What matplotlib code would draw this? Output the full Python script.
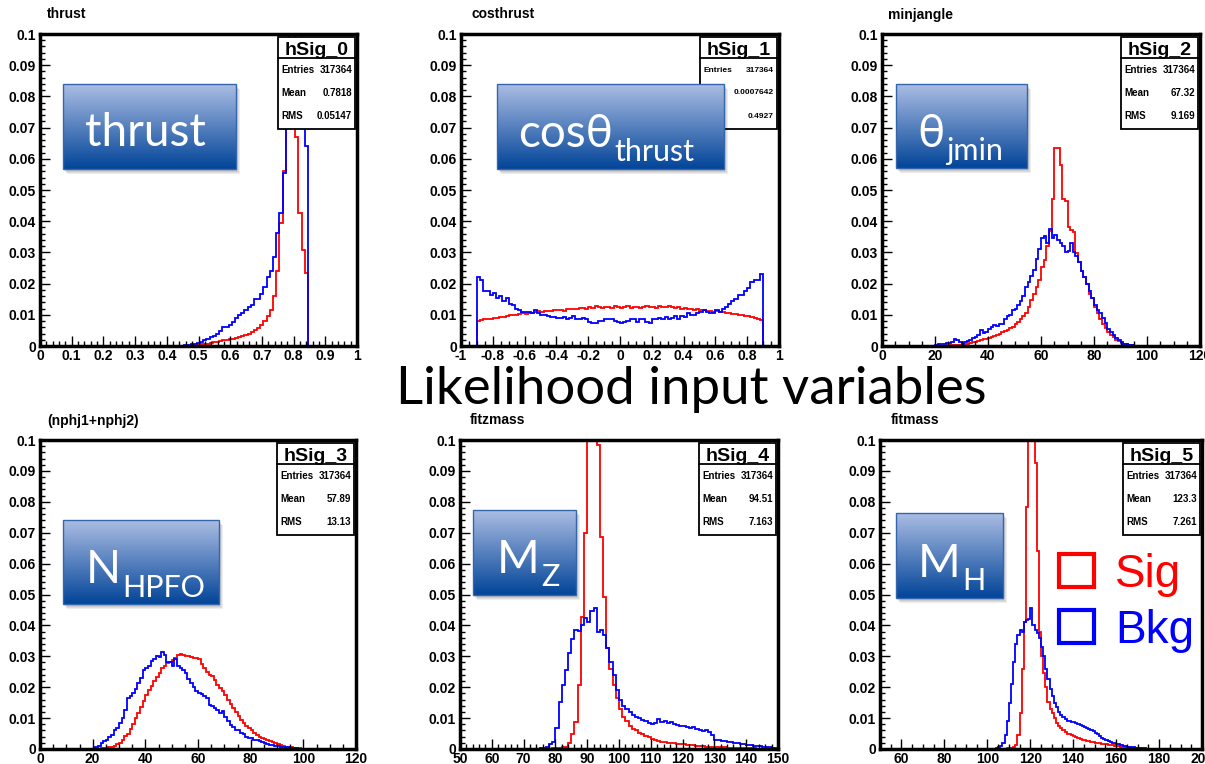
import numpy as np
import matplotlib
matplotlib.use('Agg')
import matplotlib.pyplot as plt
from matplotlib.patches import Rectangle
from matplotlib.ticker import MultipleLocator, FuncFormatter

W, H = 1205, 764

# ---------------- data (bin contents) ----------------
titles = ['thrust', 'costhrust', 'minjangle', '(nphj1+nphj2)', 'fitzmass', 'fitmass']
hist_names = ['hSig_0', 'hSig_1', 'hSig_2', 'hSig_3', 'hSig_4', 'hSig_5']
entries = ['317364'] * 6
means = ['0.7818', '0.0007642', '67.32', '57.89', '94.51', '123.3']
rmss = ['0.05147', '0.4927', '9.169', '13.13', '7.163', '7.261']
x_ranges = [(0, 1), (-1, 1), (0, 120), (0, 120), (50, 150), (50, 200)]
x_major = [0.1, 0.2, 20, 20, 10, 20]
x_minor = [0.02, 0.05, 5, 5, 2, 5]

# thrust, bins of 0.01 starting at 0.445
thrust_start, thrust_width = 0.445, 0.01
thrust_sig = [0.0000, 0.0000, 0.0001, 0.0002, 0.0003, 0.0004, 0.0005, 0.0006, 0.0008, 0.0010,
              0.0012, 0.0014, 0.0016, 0.0018, 0.0020, 0.0022, 0.0024, 0.0026, 0.0029, 0.0032,
              0.0035, 0.0040, 0.0045, 0.0050, 0.0058, 0.0068, 0.0080, 0.0095, 0.0115, 0.0160,
              0.0240, 0.0395, 0.0560, 0.0760, 0.1000, 0.1000, 0.0670, 0.0426, 0.0308, 0.0233, 0.0000]
thrust_bkg = [0.0001, 0.0003, 0.0004, 0.0005, 0.0008, 0.0010, 0.0013, 0.0018, 0.0022, 0.0030,
              0.0033, 0.0038, 0.0048, 0.0062, 0.0062, 0.0066, 0.0078, 0.0090, 0.0098, 0.0105,
              0.0115, 0.0125, 0.0132, 0.0150, 0.0150, 0.0168, 0.0188, 0.0222, 0.0240, 0.0285,
              0.0362, 0.0425, 0.0555, 0.0700, 0.1000, 0.1000, 0.1000, 0.1000, 0.0860, 0.0640, 0.0000]

# costhrust, bins of 0.02 starting at -0.9
cos_start, cos_width = -0.9, 0.02
cos_sig = [0.0081, 0.0083, 0.0085, 0.0086, 0.0088, 0.0089, 0.0091, 0.0093, 0.0094, 0.0096,
           0.0099, 0.0100, 0.0098, 0.0103, 0.0105, 0.0104, 0.0107, 0.0106, 0.0109, 0.0112,
           0.0110, 0.0112, 0.0113, 0.0111, 0.0115, 0.0114, 0.0116, 0.0113, 0.0118, 0.0117,
           0.0120, 0.0118, 0.0121, 0.0123, 0.0119, 0.0124, 0.0122, 0.0127, 0.0125, 0.0121,
           0.0124, 0.0126, 0.0123, 0.0127, 0.0124, 0.0122, 0.0125, 0.0127, 0.0123, 0.0124,
           0.0126, 0.0122, 0.0125, 0.0127, 0.0124, 0.0125, 0.0123, 0.0128, 0.0126, 0.0124,
           0.0127, 0.0125, 0.0122, 0.0124, 0.0120, 0.0121, 0.0118, 0.0120, 0.0116, 0.0118,
           0.0115, 0.0116, 0.0113, 0.0112, 0.0110, 0.0111, 0.0108, 0.0109, 0.0106, 0.0107,
           0.0104, 0.0102, 0.0100, 0.0099, 0.0097, 0.0095, 0.0093, 0.0091, 0.0088, 0.0082]
cos_bkg = [0.0220, 0.0212, 0.0177, 0.0177, 0.0165, 0.0170, 0.0155, 0.0160, 0.0145, 0.0155,
           0.0135, 0.0130, 0.0120, 0.0115, 0.0110, 0.0110, 0.0108, 0.0105, 0.0115, 0.0105,
           0.0100, 0.0098, 0.0095, 0.0093, 0.0092, 0.0090, 0.0090, 0.0092, 0.0085, 0.0090,
           0.0095, 0.0088, 0.0085, 0.0090, 0.0087, 0.0077, 0.0075, 0.0075, 0.0080, 0.0080,
           0.0085, 0.0088, 0.0085, 0.0080, 0.0078, 0.0074, 0.0078, 0.0080, 0.0085, 0.0085,
           0.0078, 0.0085, 0.0085, 0.0078, 0.0075, 0.0085, 0.0088, 0.0090, 0.0085, 0.0092,
           0.0085, 0.0090, 0.0095, 0.0088, 0.0095, 0.0092, 0.0105, 0.0100, 0.0098, 0.0105,
           0.0108, 0.0115, 0.0110, 0.0105, 0.0105, 0.0115, 0.0110, 0.0118, 0.0125, 0.0135,
           0.0145, 0.0150, 0.0165, 0.0165, 0.0175, 0.0185, 0.0205, 0.0210, 0.0210, 0.0230]

# minjangle, bins of 1 starting at 20
jang_start, jang_width = 20, 1
jang_sig = [0.0000, 0.0000, 0.0001, 0.0001, 0.0001, 0.0002, 0.0002, 0.0003, 0.0003, 0.0004,
            0.0005, 0.0006, 0.0008, 0.0010, 0.0012, 0.0014, 0.0016, 0.0019, 0.0021, 0.0024,
            0.0027, 0.0030, 0.0033, 0.0036, 0.0040, 0.0044, 0.0048, 0.0052, 0.0058, 0.0062,
            0.0070, 0.0078, 0.0085, 0.0095, 0.0105, 0.0125, 0.0147, 0.0168, 0.0190, 0.0212,
            0.0254, 0.0275, 0.0320, 0.0370, 0.0470, 0.0635, 0.0635, 0.0580, 0.0470, 0.0465,
            0.0380, 0.0372, 0.0365, 0.0298, 0.0270, 0.0240, 0.0220, 0.0200, 0.0168, 0.0155,
            0.0125, 0.0105, 0.0088, 0.0072, 0.0058, 0.0046, 0.0036, 0.0028, 0.0020, 0.0015,
            0.0011, 0.0008, 0.0005, 0.0003, 0.0002, 0.0001]
jang_bkg = [0.0004, 0.0005, 0.0006, 0.0008, 0.0010, 0.0010, 0.0012, 0.0022, 0.0018, 0.0012,
            0.0008, 0.0012, 0.0015, 0.0020, 0.0025, 0.0030, 0.0035, 0.0050, 0.0042, 0.0045,
            0.0055, 0.0060, 0.0066, 0.0063, 0.0072, 0.0070, 0.0085, 0.0095, 0.0100, 0.0115,
            0.0120, 0.0130, 0.0145, 0.0160, 0.0190, 0.0205, 0.0225, 0.0245, 0.0280, 0.0310,
            0.0345, 0.0352, 0.0330, 0.0375, 0.0345, 0.0355, 0.0340, 0.0330, 0.0322, 0.0300,
            0.0305, 0.0330, 0.0300, 0.0290, 0.0270, 0.0240, 0.0220, 0.0200, 0.0175, 0.0155,
            0.0130, 0.0115, 0.0105, 0.0090, 0.0075, 0.0055, 0.0045, 0.0035, 0.0025, 0.0018,
            0.0012, 0.0008, 0.0005, 0.0003, 0.0002, 0.0001]

# nphj1+nphj2, bins of 1 starting at 20
npfo_start, npfo_width = 20, 1
npfo_sig = [0.0000, 0.0000, 0.0001, 0.0002, 0.0003, 0.0004, 0.0006, 0.0008, 0.0010, 0.0015,
            0.0020, 0.0030, 0.0042, 0.0050, 0.0065, 0.0080, 0.0100, 0.0115, 0.0135, 0.0155,
            0.0175, 0.0190, 0.0205, 0.0220, 0.0232, 0.0245, 0.0262, 0.0270, 0.0278, 0.0280,
            0.0288, 0.0295, 0.0304, 0.0306, 0.0305, 0.0302, 0.0300, 0.0298, 0.0296, 0.0294,
            0.0290, 0.0275, 0.0262, 0.0250, 0.0240, 0.0235, 0.0222, 0.0208, 0.0198, 0.0188,
            0.0175, 0.0160, 0.0145, 0.0132, 0.0120, 0.0108, 0.0095, 0.0085, 0.0075, 0.0068,
            0.0060, 0.0052, 0.0045, 0.0040, 0.0035, 0.0031, 0.0028, 0.0025, 0.0022, 0.0018,
            0.0015, 0.0012, 0.0010, 0.0008, 0.0006, 0.0005, 0.0004, 0.0003, 0.0002, 0.0001]
npfo_bkg = [0.0000, 0.0005, 0.0010, 0.0020, 0.0025, 0.0030, 0.0040, 0.0045, 0.0060, 0.0067,
            0.0085, 0.0100, 0.0125, 0.0165, 0.0170, 0.0180, 0.0195, 0.0215, 0.0230, 0.0255,
            0.0262, 0.0270, 0.0285, 0.0290, 0.0300, 0.0298, 0.0315, 0.0305, 0.0282, 0.0280,
            0.0270, 0.0292, 0.0268, 0.0262, 0.0255, 0.0245, 0.0228, 0.0215, 0.0200, 0.0188,
            0.0182, 0.0178, 0.0172, 0.0165, 0.0142, 0.0138, 0.0132, 0.0125, 0.0118, 0.0122,
            0.0105, 0.0090, 0.0078, 0.0070, 0.0063, 0.0060, 0.0052, 0.0048, 0.0040, 0.0037,
            0.0034, 0.0030, 0.0028, 0.0025, 0.0022, 0.0019, 0.0016, 0.0014, 0.0012, 0.0011,
            0.0010, 0.0008, 0.0007, 0.0006, 0.0005, 0.0004, 0.0003, 0.0002, 0.0001, 0.0001]

# fitzmass, bins of 1 starting at 75
mz_start, mz_width = 75, 1
mz_sig = [0.0000, 0.0001, 0.0001, 0.0001, 0.0002, 0.0002, 0.0003, 0.0005, 0.0008, 0.0018,
          0.0050, 0.0088, 0.0207, 0.0428, 0.0698, 0.1000, 0.1000, 0.1000, 0.0984, 0.0687,
          0.0493, 0.0326, 0.0260, 0.0207, 0.0164, 0.0130, 0.0105, 0.0090, 0.0075, 0.0065,
          0.0060, 0.0052, 0.0047, 0.0042, 0.0038, 0.0033, 0.0030, 0.0027, 0.0024, 0.0022,
          0.0020, 0.0019, 0.0018, 0.0017, 0.0016, 0.0015, 0.0014, 0.0013, 0.0012, 0.0011,
          0.0010, 0.0009, 0.0008, 0.0008, 0.0007, 0.0006, 0.0006, 0.0005, 0.0005, 0.0004,
          0.0004, 0.0003, 0.0003, 0.0003, 0.0002, 0.0002, 0.0002, 0.0002, 0.0001, 0.0001,
          0.0001, 0.0001, 0.0001, 0.0000, 0.0000]
mz_bkg = [0.0002, 0.0004, 0.0008, 0.0015, 0.0024, 0.0067, 0.0153, 0.0207, 0.0256, 0.0310,
          0.0355, 0.0385, 0.0382, 0.0400, 0.0425, 0.0410, 0.0445, 0.0455, 0.0380, 0.0385,
          0.0370, 0.0326, 0.0283, 0.0240, 0.0190, 0.0160, 0.0140, 0.0130, 0.0120, 0.0110,
          0.0105, 0.0100, 0.0095, 0.0090, 0.0085, 0.0082, 0.0085, 0.0098, 0.0088, 0.0090,
          0.0085, 0.0088, 0.0082, 0.0078, 0.0075, 0.0074, 0.0070, 0.0068, 0.0072, 0.0065,
          0.0062, 0.0058, 0.0060, 0.0055, 0.0045, 0.0030, 0.0029, 0.0027, 0.0025, 0.0024,
          0.0022, 0.0021, 0.0020, 0.0017, 0.0015, 0.0013, 0.0012, 0.0011, 0.0010, 0.0009,
          0.0008, 0.0006, 0.0005, 0.0004, 0.0003]

# fitmass, bins of 1 starting at 104
mh_start, mh_width = 104, 1
mh_sig = [0.0000, 0.0000, 0.0000, 0.0001, 0.0001, 0.0002, 0.0003, 0.0004, 0.0006, 0.0013,
          0.0045, 0.0115, 0.0260, 0.0410, 0.0784, 0.1000, 0.1000, 0.1000, 0.0925, 0.0640,
          0.0380, 0.0300, 0.0245, 0.0200, 0.0153, 0.0130, 0.0115, 0.0099, 0.0085, 0.0075,
          0.0067, 0.0060, 0.0055, 0.0050, 0.0047, 0.0044, 0.0041, 0.0038, 0.0035, 0.0032,
          0.0030, 0.0029, 0.0027, 0.0025, 0.0024, 0.0022, 0.0020, 0.0019, 0.0018, 0.0017,
          0.0016, 0.0015, 0.0014, 0.0013, 0.0012, 0.0011, 0.0010, 0.0009, 0.0008, 0.0007,
          0.0006, 0.0005, 0.0005, 0.0004, 0.0003, 0.0003, 0.0002, 0.0002, 0.0001, 0.0001, 0.0000]
mh_bkg = [0.0002, 0.0005, 0.0010, 0.0020, 0.0045, 0.0090, 0.0150, 0.0210, 0.0280, 0.0340,
          0.0370, 0.0385, 0.0380, 0.0410, 0.0418, 0.0420, 0.0455, 0.0400, 0.0385, 0.0375,
          0.0360, 0.0330, 0.0300, 0.0260, 0.0225, 0.0195, 0.0170, 0.0148, 0.0135, 0.0120,
          0.0110, 0.0102, 0.0096, 0.0092, 0.0090, 0.0088, 0.0087, 0.0085, 0.0082, 0.0078,
          0.0074, 0.0072, 0.0068, 0.0065, 0.0062, 0.0058, 0.0052, 0.0047, 0.0042, 0.0037,
          0.0032, 0.0029, 0.0026, 0.0024, 0.0021, 0.0019, 0.0017, 0.0015, 0.0013, 0.0011,
          0.0010, 0.0008, 0.0007, 0.0006, 0.0005, 0.0004, 0.0003, 0.0003, 0.0002, 0.0002, 0.0001]

starts = [thrust_start, cos_start, jang_start, npfo_start, mz_start, mh_start]
widths = [thrust_width, cos_width, jang_width, npfo_width, mz_width, mh_width]
sig_vals = [thrust_sig, cos_sig, jang_sig, npfo_sig, mz_sig, mh_sig]
bkg_vals = [thrust_bkg, cos_bkg, jang_bkg, npfo_bkg, mz_bkg, mh_bkg]

# label boxes: main text, subscript
label_main = ['thrust', 'cos\u03b8', '\u03b8', 'N', 'M', 'M']
label_sub = ['', 'thrust', 'jmin', 'HPFO', 'Z', 'H']

# ---------------- layout (pixels: left, top, right, bottom) ----------------
rects = [(40, 34, 357, 346), (461, 34, 779, 346), (882, 34, 1200, 346),
         (40, 440, 356, 749), (460, 440, 778, 749), (880, 440, 1202, 749)]
title_pos = [(47, 18), (471, 18), (888, 19), (47, 425), (470, 424), (891, 424)]
stat_size = [7, 6, 7, 7, 7, 7]
# box x0, y0, x1, y1, text x, main baseline, sub baseline
label_boxes = [(63, 84, 236, 169, 85, 146, 0),
               (497, 84, 724, 169, 518, 147, 161),
               (896, 84, 1027, 168, 917, 147, 160),
               (63, 520, 219, 604, 86, 583, 597),
               (473, 510, 576, 595, 497, 573, 586),
               (896, 513, 1003, 598, 918, 577, 590)]

plt.rcParams['font.family'] = ['Liberation Sans', 'DejaVu Sans']
plt.rcParams['font.weight'] = 'bold'
label_font = ['Lato', 'Noto Sans', 'DejaVu Sans']

fig = plt.figure(figsize=(W / 100, H / 100), dpi=100)


def frac_rect(l, t, r, b):
    return [l / W, 1 - b / H, (r - l) / W, (b - t) / H]


def draw_hist(ax, start, width, vals, lo, hi, color):
    vals = np.asarray(vals)
    edges = start + width * np.arange(len(vals) + 1)
    v = np.concatenate([[0.0], vals, [0.0]])
    e = np.concatenate([[lo], edges, [hi]])
    ax.stairs(v, e, color=color, lw=1.3)


fmt = FuncFormatter(lambda v, p: '%g' % round(v, 6))

for i in range(6):
    ax = fig.add_axes(frac_rect(*rects[i]))
    lo, hi = x_ranges[i]
    draw_hist(ax, starts[i], widths[i], sig_vals[i], lo, hi, '#ff0000')
    draw_hist(ax, starts[i], widths[i], bkg_vals[i], lo, hi, '#0000ff')
    ax.set_xlim(lo, hi)
    ax.set_ylim(0, 0.1)
    ax.yaxis.set_major_locator(MultipleLocator(0.01))
    ax.yaxis.set_minor_locator(MultipleLocator(0.002))
    ax.xaxis.set_major_locator(MultipleLocator(x_major[i]))
    ax.xaxis.set_minor_locator(MultipleLocator(x_minor[i]))
    ax.xaxis.set_major_formatter(fmt)
    ax.yaxis.set_major_formatter(fmt)
    ax.tick_params(which='both', direction='in', top=False, right=False,
                   labelsize=10, width=1.0)
    ax.tick_params(which='major', length=7)
    ax.tick_params(which='minor', length=3.5)
    ax.tick_params(axis='x', pad=2)
    ax.tick_params(axis='y', pad=3)
    for s in ax.spines.values():
        s.set_linewidth(2.5)

# overlay in pixel coordinates for the decorations
ov = fig.add_axes([0, 0, 1, 1], zorder=10)
ov.patch.set_visible(False)
ov.axis('off')

for i in range(6):
    l, t, r, b = rects[i]
    ov.text(title_pos[i][0], title_pos[i][1], titles[i], fontsize=10,
            fontweight='bold', va='baseline', ha='left')
    bx1 = r - 2
    bx0 = bx1 - 77
    by0 = t + 3
    ov.add_patch(Rectangle((bx0, by0), 77, 92, facecolor='white',
                           edgecolor='black', lw=1.3, zorder=2))
    ov.plot([bx0, bx1], [by0 + 21, by0 + 21], color='black', lw=1.3, zorder=3)
    ov.text((bx0 + bx1) / 2, by0 + 18, hist_names[i], fontsize=14,
            fontweight='bold', ha='center', va='baseline', zorder=3)
    rows = [('Entries', entries[i]), ('Mean', means[i]), ('RMS', rmss[i])]
    for k, (name, val) in enumerate(rows):
        yy = by0 + 33 + k * 23
        ov.text(bx0 + 3, yy, name, fontsize=stat_size[i], fontweight='bold',
                ha='left', va='center', zorder=3)
        ov.text(bx1 - 3, yy, val, fontsize=stat_size[i], fontweight='bold',
                ha='right', va='center', zorder=3)

# blue gradient label boxes
g = np.linspace(0, 1, 80)[:, None, None]
c_top = np.array([0.67, 0.74, 0.89])
c_bot = np.array([0.01, 0.27, 0.60])
grad = c_top * (1 - g) + c_bot * g
for i in range(6):
    x0, y0, x1, y1, tx, by, sby = label_boxes[i]
    for k in range(4):
        ov.add_patch(Rectangle((x0 + 1 + k, y0 + 2 + k), x1 - x0, y1 - y0,
                               facecolor='black', alpha=0.07, lw=0, zorder=4))
    ov.imshow(grad, extent=(x0, x1, y1, y0), aspect='auto', zorder=5,
              interpolation='bilinear')
    ov.add_patch(Rectangle((x0, y0), x1 - x0, y1 - y0, fill=False,
                           edgecolor='#3466ae', lw=1.0, zorder=6))
    t_main = ov.text(tx, by, label_main[i], color='white', fontsize=33,
                     family=label_font, fontweight='normal', va='baseline',
                     ha='left', zorder=7)
    if label_sub[i]:
        ov.annotate(label_sub[i], xy=(1.0, sby), xycoords=(t_main, 'data'),
                    xytext=(1, 0), textcoords='offset points',
                    color='white', fontsize=22, family=label_font,
                    fontweight='normal', va='baseline', ha='left', zorder=7)

ov.set_xlim(0, W)
ov.set_ylim(H, 0)

# headline
ov.text(691, 404, 'Likelihood input variables', fontsize=38, family=label_font,
        fontweight='normal', ha='center', va='baseline', color='black')

# legend
ov.add_patch(Rectangle((1059, 554), 35, 33, fill=False, edgecolor='#ff0000', lw=3, zorder=8))
ov.add_patch(Rectangle((1059, 610), 35, 33, fill=False, edgecolor='#0000ff', lw=3, zorder=8))
ov.text(1115, 587, 'Sig', fontsize=33, fontweight='normal', color='#ff0000',
        va='baseline', ha='left', zorder=8)
ov.text(1115, 643, 'Bkg', fontsize=33, fontweight='normal', color='#0000ff',
        va='baseline', ha='left', zorder=8)

fig.savefig('out.png', dpi=100)
